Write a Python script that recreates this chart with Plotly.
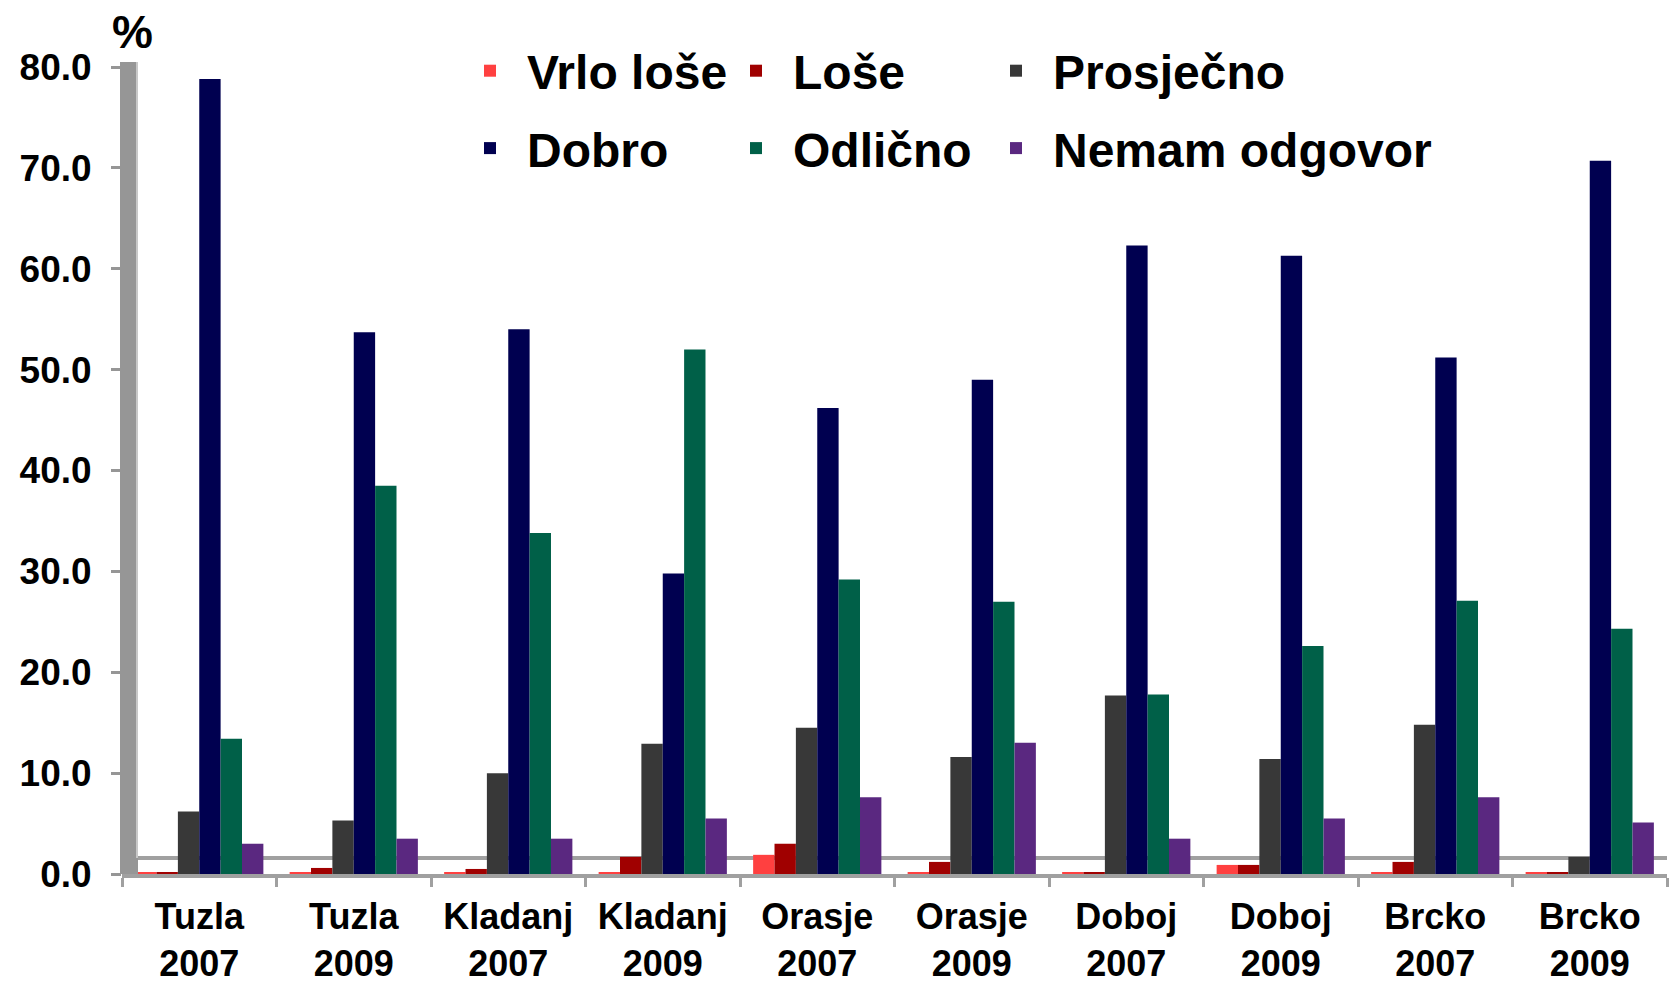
import plotly.graph_objects as go

categories = ["Tuzla<br>2007", "Tuzla<br>2009", "Kladanj<br>2007", "Kladanj<br>2009",
              "Orasje<br>2007", "Orasje<br>2009", "Doboj<br>2007", "Doboj<br>2009",
              "Brcko<br>2007", "Brcko<br>2009"]

vrlo_lose = [0.2, 0.1, 0.1, 0.1, 1.9, 0.2, 0.1, 0.9, 0.2, 0.1]
lose = [0.2, 0.6, 0.5, 1.7, 3.0, 1.2, 0.2, 0.9, 1.2, 0.2]
prosjecno = [6.2, 5.3, 10.0, 12.9, 14.5, 11.6, 17.7, 11.4, 14.8, 1.7]
dobro = [78.8, 53.7, 54.0, 29.8, 46.2, 49.0, 62.3, 61.3, 51.2, 70.7]
odlicno = [13.4, 38.5, 33.8, 52.0, 29.2, 27.0, 17.8, 22.6, 27.1, 24.3]
nemam = [3.0, 3.5, 3.5, 5.5, 7.6, 13.0, 3.5, 5.5, 7.6, 5.1]

series = [
    ("Vrlo loše", vrlo_lose, "#FF4040", "legend"),
    ("Loše", lose, "#A00000", "legend2"),
    ("Prosječno", prosjecno, "#383838", "legend3"),
    ("Dobro", dobro, "#000050", "legend"),
    ("Odlično", odlicno, "#006048", "legend2"),
    ("Nemam odgovor", nemam, "#5A2880", "legend3"),
]

fig = go.Figure()
for i, (name, vals, col, lg) in enumerate(series):
    fig.add_trace(go.Bar(name=name, x=categories, y=vals, marker_color=col,
                         marker_line_width=0, legend=lg, legendgroup=f"g{i}"))

FONT = "Liberation Sans, Arial, sans-serif"
LFONT = dict(size=48, family=FONT, weight="bold")
W, H = 1673, 987
L, R, T, B = 122, 6, 67, 113
pw, ph = W - L - R, H - T - B

def lx(px):
    return (px - L) / pw

def ly(py):
    return 1 + (T - py) / ph

leg_common = dict(orientation="v", xanchor="left", yanchor="top", bgcolor="rgba(0,0,0,0)",
                  font=LFONT, tracegroupgap=12, itemwidth=64)

fig.update_layout(
    width=W, height=H,
    margin=dict(l=L, r=R, t=T, b=B, autoexpand=False),
    paper_bgcolor="white", plot_bgcolor="white",
    barmode="group", bargap=0.17, bargroupgap=0.0,
    font=dict(family=FONT, color="black"),
    legend=dict(x=lx(453), y=ly(33), **leg_common),
    legend2=dict(x=lx(719), y=ly(33), **leg_common),
    legend3=dict(x=lx(979), y=ly(33), **leg_common),
    xaxis=dict(showline=True, linecolor="#A0A0A0", linewidth=4,
               ticks="outside", tickson="boundaries", ticklen=9, tickcolor="#A0A0A0", tickwidth=3,
               ticklabelstandoff=8,
               tickfont=dict(size=36, family=FONT, weight="bold"), showgrid=False),
    yaxis=dict(range=[0, 80], dtick=10, tickformat=".1f", showline=False,
               ticks="outside", ticklen=10, ticklabelstandoff=12,
               tickcolor="#969696", tickwidth=3, showgrid=False, zeroline=False,
               tickfont=dict(size=37, family=FONT, weight="bold")),
    shapes=[
        dict(type="line", xref="paper", yref="paper", x0=lx(138), x1=1, y0=16 / ph, y1=16 / ph,
             line=dict(color="#A0A0A0", width=4), layer="below"),
        dict(type="rect", xref="paper", yref="paper", x0=lx(120), x1=lx(138), y0=0, y1=1 + 5 / ph,
             fillcolor="#969696", line=dict(width=0), layer="above"),
        dict(type="line", xref="paper", yref="paper", x0=lx(137), x1=lx(137), y0=16 / ph, y1=1 + 5 / ph,
             line=dict(color="#C8C8C8", width=2), layer="above"),
    ],
    annotations=[dict(text="%", x=lx(132), y=ly(60), xref="paper", yref="paper",
                      xanchor="center", yanchor="bottom", showarrow=False,
                      font=dict(size=46, family=FONT, weight="bold"))],
)
fig.write_html("out.html", config={"displayModeBar": False},
               post_script="document.body.style.margin='0';document.body.style.overflow='hidden';")
